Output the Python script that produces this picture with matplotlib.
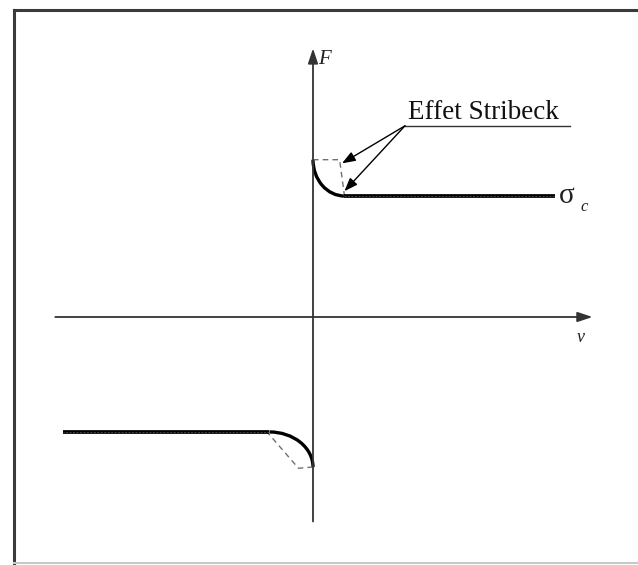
import matplotlib
matplotlib.use("Agg")
import matplotlib.pyplot as plt
from matplotlib.patches import Arc
from matplotlib.lines import Line2D

# Friction model: positive (v > 0) and negative (v < 0) branches
coulomb_force = [1.00, -0.95]      # Coulomb level sigma_c on each side
static_force = [1.30, -1.24]       # breakaway (static) force at v = 0
stribeck_velocity = [0.26, -0.36]  # end of the Stribeck transition
plateau_end = [2.00, -2.07]        # extent of the Coulomb plateau

# Simplified (dashed) Stribeck profiles as polylines (v, F)
dashed_pos_v = [0.0, 0.22, 0.26]
dashed_pos_F = [1.30, 1.30, 1.00]
dashed_neg_v = [0.0, -0.12, -0.38]
dashed_neg_F = [-1.24, -1.25, -0.95]

axis_v = [-2.13, 2.31]
axis_F = [-1.69, 2.22]

label_title = "Effet Stribeck"

px = 121.0  # pixels per unit
W, H = 638, 565
ox, oy = 313, 317
fig = plt.figure(figsize=(W / 100, H / 100), dpi=100)
ax = fig.add_axes([0, 0, 1, 1])
ax.set_xlim(-ox / px, (W - ox) / px)
ax.set_ylim((oy - H) / px, oy / px)
ax.axis("off")

# Frame around the drawing
fig.add_artist(Line2D([14 / W, 14 / W], [1 - 10 / H, 1 - 563 / H],
                      transform=fig.transFigure, color="#3a3a3a", lw=2.2))
fig.add_artist(Line2D([14 / W, 1.0], [1 - 10 / H, 1 - 10 / H],
                      transform=fig.transFigure, color="#3a3a3a", lw=2.2))
fig.add_artist(Line2D([14 / W, 1.0], [1 - 563 / H, 1 - 563 / H],
                      transform=fig.transFigure, color="#c8c8c8", lw=1.5))

# Coordinate axes with arrows
axis_kw = dict(arrowstyle="-|>,head_length=0.9,head_width=0.3",
               color="#333333", lw=1.3, shrinkA=0, shrinkB=0)
ax.annotate("", xy=(0, axis_F[1]), xytext=(0, axis_F[0]), arrowprops=axis_kw)
ax.annotate("", xy=(axis_v[1], 0), xytext=(axis_v[0], 0), arrowprops=axis_kw)

# Dashed simplified profiles
dash_kw = dict(color="#707070", lw=1.0, ls=(0, (4, 3)))
ax.plot(dashed_pos_v, dashed_pos_F, **dash_kw)
ax.plot(dashed_neg_v, dashed_neg_F, **dash_kw)

# Solid friction curve: quarter-elliptic Stribeck transition + Coulomb plateau
solid_kw = dict(color="black", lw=2.4)
for fc, fs, vs, ve in zip(coulomb_force, static_force, stribeck_velocity, plateau_end):
    if vs > 0:
        arc = Arc((vs, fs), 2 * vs, 2 * (fs - fc), theta1=180, theta2=270, **solid_kw)
    else:
        arc = Arc((vs, fs), -2 * vs, 2 * (fc - fs), theta1=0, theta2=90, **solid_kw)
    ax.add_patch(arc)
    ax.plot([vs, ve], [fc, fc], color="black", lw=2.7, solid_capstyle="butt")
    ax.plot([vs, ve], [fc, fc], color="#5a5a5a", lw=0.5, ls=(0, (3, 2)))

# Annotation "Effet Stribeck" with two pointers
src = (0.76, 1.58)
arrow_kw = dict(arrowstyle="-|>,head_length=0.8,head_width=0.3",
                color="black", lw=1.0, shrinkA=0, shrinkB=0)
ax.annotate("", xy=(0.24, 1.27), xytext=src, arrowprops=arrow_kw)
ax.annotate("", xy=(0.26, 1.04), xytext=src, arrowprops=arrow_kw)
ax.plot([0.76, 2.12], [1.58, 1.58], color="#333333", lw=1.0)
ax.text(0.785, 1.635, label_title, family="Liberation Serif", fontsize=19.5,
        color="#111111", ha="left", va="baseline")

# Axis labels
ax.text(0.04, 2.09, "F", family="Liberation Serif", style="italic",
        fontsize=15, color="#222222", va="baseline")
ax.text(2.03, 0.94, "σ", family="Liberation Serif",
        fontsize=21, color="#222222", va="baseline")
ax.text(2.21, 0.88, "c", family="Liberation Serif", style="italic",
        fontsize=12, color="#222222", va="baseline")
ax.text(2.18, -0.205, "v", family="Liberation Serif", style="italic",
        fontsize=13, color="#222222", va="baseline")

fig.savefig("out.png", dpi=100, facecolor="white")
